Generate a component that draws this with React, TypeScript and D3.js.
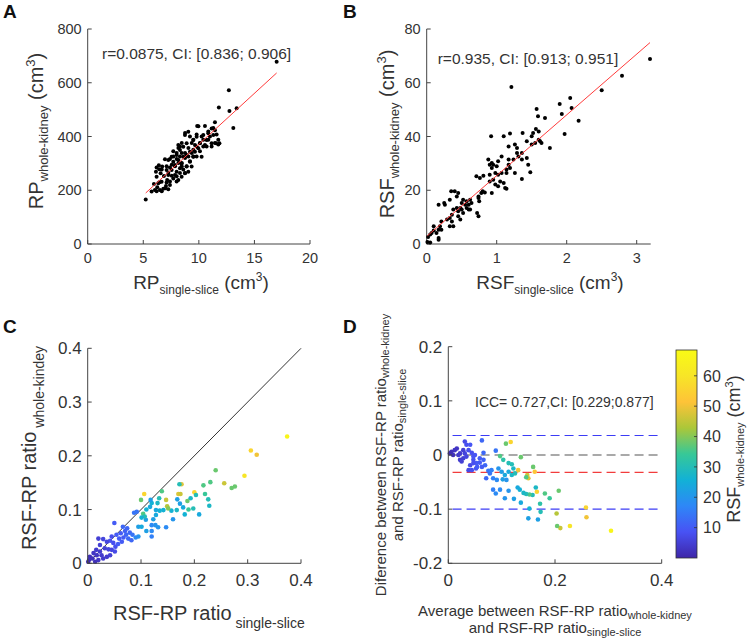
import * as d3 from "d3"

const W = 749
const H = 641
const FONT = "'Liberation Sans', Arial, Helvetica, sans-serif"
const INK = "#333"
const AXIS = "#444"

// A: RP single-slice vs RP whole-kidney (cm3)
const rpPoints: [number, number][] = [
  [5.22, 166], [5.75, 195], [6.05, 201], [6.26, 211], [6.5, 201], [5.96, 223], [6.35, 226], [6.8, 206],
  [7.04, 216], [6.65, 232], [6.2, 250], [6.14, 269], [6.44, 278], [6.2, 285], [6.56, 263], [6.86, 253],
  [7.25, 257], [7.1, 275], [7.4, 285], [6.95, 315], [7.25, 313], [7.55, 325], [7.7, 306], [8.0, 331],
  [8.15, 313], [7.85, 294], [7.55, 275], [7.85, 257], [8.15, 238], [7.7, 244], [8.0, 269], [8.3, 282],
  [8.45, 300], [8.6, 325], [8.3, 350], [8.6, 362], [8.9, 375], [8.15, 368], [8.75, 406], [9.05, 418],
  [9.5, 387], [9.65, 368], [9.2, 343], [8.9, 331], [9.5, 325], [9.2, 306], [8.9, 288], [8.75, 263],
  [8.45, 250], [9.65, 343], [9.95, 356], [10.1, 375], [9.8, 399], [9.85, 439], [10.55, 439], [10.4, 406],
  [10.7, 387], [10.85, 412], [11.15, 430], [11.45, 453], [11.3, 406], [11.15, 375], [11.55, 375], [11.85, 375],
  [10.55, 368], [10.25, 325], [9.35, 288], [9.05, 269], [7.15, 238], [7.4, 220], [7.25, 204], [6.7, 288],
  [17.0, 678], [12.7, 572], [11.8, 508], [12.75, 495], [13.4, 505], [13.1, 432],
  [6.45, 230], [6.4, 293], [6.66, 277], [6.2, 196], [6.66, 196], [6.99, 207], [7.1, 229], [7.26, 264],
  [7.56, 254], [7.4, 316], [7.7, 326], [8.0, 316], [7.7, 345], [8.16, 357], [8.46, 376], [8.76, 413],
  [9.2, 400], [9.5, 388], [9.8, 407], [9.96, 438], [10.85, 419], [11.3, 432], [10.25, 400], [10.4, 363],
  [10.7, 363], [11.15, 363], [11.45, 376], [11.75, 370], [11.45, 423], [10.1, 376], [9.8, 363], [9.5, 351],
  [9.06, 357], [8.76, 339], [8.3, 326], [8.46, 301], [8.76, 320], [9.06, 326], [9.36, 339], [9.8, 326],
  [8.9, 289], [8.6, 277], [8.3, 264], [8.0, 252], [7.86, 289], [7.56, 295], [7.1, 289], [8.16, 301],
  [8.0, 233], [7.4, 233], [8.46, 289], [8.76, 264], [8.46, 339], [8.0, 339], [8.3, 363], [9.36, 376],
  [9.5, 326], [9.2, 308], [10.1, 345], [10.4, 388], [10.85, 388], [11.0, 400], [11.75, 388], [11.6, 407],
]
const rpFit = { slope: 37.9, intercept: -7.9 }
const rpXTicks = [0, 5, 10, 15, 20]
const rpYTicks = [0, 200, 400, 600, 800]

// B: RSF single-slice vs RSF whole-kidney (cm3)
const rsfPoints: [number, number][] = [
  [3.19, 68.8], [2.79, 62.6], [2.5, 57.2], [1.21, 58.4], [1.9, 52.1], [2.05, 54.3], [2.07, 50.6], [1.93, 48.4],
  [2.17, 45.9], [1.97, 40.9], [1.57, 50.2], [1.59, 47.5], [1.69, 46.9], [1.76, 35.7], [0.92, 40.1], [1.1, 40.1],
  [1.19, 41.1], [1.37, 41.3], [1.56, 42.8], [1.52, 41.3], [1.6, 41.9], [1.62, 38.2], [1.55, 37.6], [1.5, 37.0],
  [1.17, 36.3], [1.26, 37.0], [1.29, 35.7], [1.36, 33.9], [1.43, 32.0], [1.36, 31.4], [1.31, 32.6], [1.45, 29.5],
  [1.48, 26.7], [1.36, 24.2], [1.26, 26.4], [1.19, 28.3], [1.14, 26.4], [1.17, 31.4], [1.07, 32.6], [1.02, 30.8],
  [0.95, 29.5], [0.9, 29.5], [0.93, 28.3], [0.9, 25.8], [0.98, 26.4], [0.95, 23.9], [0.98, 22.1], [1.02, 21.5],
  [1.05, 23.3], [1.1, 22.7], [1.12, 20.8], [1.07, 26.4], [1.14, 20.6], [0.93, 19.0], [0.83, 19.2], [0.78, 19.0],
  [0.71, 25.2], [0.76, 24.6], [0.81, 25.4], [0.74, 17.1], [0.75, 15.9], [0.72, 11.5], [0.74, 10.3], [0.62, 16.5],
  [0.6, 14.6], [0.57, 13.4], [0.52, 16.5], [0.5, 15.3], [0.48, 13.4], [0.52, 11.5], [0.45, 19.0], [0.4, 19.6],
  [0.43, 17.7], [0.35, 19.6], [0.33, 16.5], [0.26, 14.6], [0.25, 15.3], [0.17, 14.6], [0.43, 13.4], [0.38, 12.8],
  [0.36, 10.9], [0.33, 9.7], [0.36, 8.4], [0.38, 6.6], [0.33, 6.6], [0.29, 9.1], [0.21, 8.4], [0.19, 6.6],
  [0.17, 5.3], [0.21, 5.3], [0.14, 4.1], [0.1, 6.6], [0.07, 4.1], [0.05, 3.5], [0.02, 2.6], [0.01, 0.7],
  [0.05, 0.6], [0.17, 2.2], [0.17, 1.6], [0.1, 5.0], [0.45, 10.3], [0.48, 9.1], [0.45, 12.2], [0.5, 12.8],
  [0.55, 14.6], [0.6, 12.8], [0.62, 12.8], [0.64, 15.3], [0.57, 15.9], [0.74, 17.7], [0.8, 19.6], [1.5, 40.1],
  [1.6, 38.8], [1.43, 38.2], [1.64, 37.6], [1.29, 33.9], [1.24, 31.4], [1.17, 29.5], [1.14, 27.7], [1.0, 28.9],
  [1.02, 25.8], [0.9, 23.3], [0.88, 31.4], [0.93, 30.1],
]
const rsfFit = { slope: 22.6, intercept: 2.85 }
const rsfXTicks = [0, 1, 2, 3]
const rsfYTicks = [0, 20, 40, 60, 80]

// C: ratio single-slice, ratio whole-kidney, RSF whole-kidney (colour)
const ratioPoints: [number, number, number][] = [
  [0.374, 0.236, 66], [0.306, 0.21, 56], [0.317, 0.202, 50], [0.294, 0.163, 60], [0.256, 0.149, 46],
  [0.24, 0.173, 38], [0.27, 0.14, 38], [0.276, 0.143, 38], [0.23, 0.151, 36], [0.217, 0.145, 36],
  [0.22, 0.129, 34], [0.226, 0.119, 30], [0.228, 0.107, 28], [0.209, 0.091, 24], [0.2, 0.132, 56],
  [0.203, 0.127, 30], [0.193, 0.121, 28], [0.198, 0.102, 30], [0.187, 0.116, 38], [0.189, 0.1, 34],
  [0.176, 0.147, 48], [0.172, 0.147, 30], [0.17, 0.129, 48], [0.174, 0.129, 46], [0.168, 0.119, 22],
  [0.173, 0.111, 22], [0.179, 0.104, 24], [0.182, 0.091, 26], [0.167, 0.099, 28], [0.157, 0.098, 26],
  [0.16, 0.082, 20], [0.149, 0.106, 44], [0.147, 0.118, 46], [0.151, 0.102, 40], [0.139, 0.134, 36],
  [0.134, 0.121, 30], [0.131, 0.112, 28], [0.135, 0.098, 26], [0.142, 0.099, 26], [0.128, 0.09, 24],
  [0.123, 0.082, 22], [0.127, 0.071, 20], [0.132, 0.067, 20], [0.147, 0.067, 18], [0.12, 0.071, 18],
  [0.117, 0.105, 24], [0.12, 0.112, 26], [0.118, 0.118, 22], [0.128, 0.099, 24], [0.11, 0.1, 26],
  [0.109, 0.081, 22], [0.106, 0.129, 56], [0.1, 0.118, 38], [0.104, 0.092, 36], [0.107, 0.087, 30],
  [0.101, 0.085, 26], [0.095, 0.068, 22], [0.101, 0.068, 24], [0.11, 0.06, 22], [0.12, 0.06, 18],
  [0.12, 0.05, 16], [0.095, 0.05, 20], [0.09, 0.048, 18], [0.087, 0.094, 14], [0.092, 0.096, 14],
  [0.074, 0.065, 12], [0.066, 0.068, 12], [0.05, 0.075, 10], [0.072, 0.053, 12], [0.067, 0.048, 10],
  [0.059, 0.046, 10], [0.054, 0.053, 10], [0.045, 0.05, 8], [0.042, 0.042, 8], [0.048, 0.038, 8],
  [0.052, 0.031, 8], [0.057, 0.036, 10], [0.064, 0.04, 10], [0.036, 0.04, 6], [0.029, 0.045, 6],
  [0.02, 0.046, 5], [0.023, 0.034, 5], [0.032, 0.028, 5], [0.039, 0.026, 6], [0.023, 0.022, 4],
  [0.016, 0.025, 4], [0.011, 0.019, 3], [0.004, 0.012, 2], [0.003, 0.007, 2], [0.009, 0.009, 2],
  [0.017, 0.015, 3], [0.001, 0.003, 1], [0.014, 0.003, 2], [0.02, 0.006, 3], [0.029, 0.009, 4],
  [0.036, 0.012, 4], [0.026, 0.015, 4], [0.042, 0.015, 5], [0.045, 0.025, 6], [0.051, 0.022, 7],
  [0.079, 0.057, 12], [0.076, 0.046, 12], [0.084, 0.053, 14], [0.082, 0.043, 12], [0.062, 0.056, 10],
  [0.07, 0.06, 11],
]
const ratioTicks = [0, 0.1, 0.2, 0.3, 0.4]

// D: Bland-Altman, average, difference, RSF whole-kidney (colour)
const baPoints: [number, number, number][] = [
  [0.305, -0.14, 66], [0.258, -0.097, 56], [0.259, -0.115, 50], [0.228, -0.131, 60], [0.21, -0.135, 46],
  [0.204, -0.131, 38], [0.203, -0.108, 44], [0.207, -0.066, 38], [0.19, -0.08, 34], [0.181, -0.071, 36],
  [0.172, -0.09, 32], [0.173, -0.105, 30], [0.168, -0.119, 22], [0.15, -0.117, 22], [0.152, -0.099, 26],
  [0.166, -0.068, 56], [0.164, -0.06, 28], [0.158, -0.074, 30], [0.152, -0.073, 36], [0.146, -0.072, 30],
  [0.141, -0.07, 28], [0.134, -0.064, 26], [0.13, -0.06, 24], [0.136, -0.088, 24], [0.123, -0.081, 22],
  [0.106, -0.08, 20], [0.113, -0.066, 20], [0.097, -0.064, 18], [0.089, -0.071, 18], [0.084, -0.064, 16],
  [0.148, -0.037, 46], [0.15, -0.043, 48], [0.146, -0.041, 36], [0.131, -0.028, 50], [0.162, -0.031, 52],
  [0.159, -0.022, 38], [0.136, -0.004, 38], [0.117, 0.024, 56], [0.108, 0.021, 38], [0.097, -0.002, 36],
  [0.103, -0.009, 32], [0.113, -0.015, 30], [0.119, -0.017, 30], [0.122, -0.025, 28], [0.125, -0.034, 30],
  [0.119, -0.037, 28], [0.113, -0.031, 24], [0.106, -0.037, 24], [0.1, -0.031, 22], [0.094, -0.025, 20],
  [0.102, -0.045, 22], [0.109, -0.046, 20], [0.091, -0.046, 18], [0.084, -0.043, 16], [0.078, -0.034, 14],
  [0.075, -0.029, 14], [0.081, -0.028, 16], [0.089, 0.008, 14], [0.071, -0.043, 12], [0.069, -0.019, 12],
  [0.063, -0.022, 10], [0.063, 0.027, 12], [0.066, 0.004, 12], [0.059, -0.014, 10], [0.053, -0.015, 10],
  [0.047, -0.009, 8], [0.05, 0, 9], [0.044, 0.004, 8], [0.038, 0.009, 8], [0.031, 0.025, 7],
  [0.034, 0.019, 8], [0.041, 0.019, 9], [0.047, -0.003, 9], [0.041, -0.019, 7], [0.038, -0.028, 7],
  [0.044, -0.028, 8], [0.052, -0.025, 9], [0.054, -0.022, 10], [0.028, -0.006, 5], [0.022, -0.009, 4],
  [0.019, 0, 4], [0.012, 0.009, 3], [0.006, 0.006, 2], [0.003, 0.003, 1], [0.009, 0, 2],
  [0.016, 0.012, 3], [0.022, 0.003, 4], [0.025, -0.012, 5], [0.031, 0.003, 6], [0.034, -0.003, 6],
  [0.028, 0.009, 5], [0.047, -0.015, 8], [0.059, -0.006, 10], [0.066, -0.009, 11],
]
const baLines = { upper: 0.036, mean: -0.032, lower: -0.1 }
const baXTicks = [0, 0.2, 0.4]
const baYTicks = [-0.2, -0.1, 0, 0.1, 0.2]

const cbTicks = [10, 20, 30, 40, 50, 60]
const cbDomain: [number, number] = [0, 68.5]
const parula = ["#3e26a8", "#4852f4", "#2e87f7", "#12b1d6", "#37c897", "#abc739", "#fec338", "#f7e527", "#f9fb15"]

const colorScale = d3
  .scaleLinear<string>()
  .domain(parula.map((_, i) => cbDomain[0] + ((cbDomain[1] - cbDomain[0]) * i) / (parula.length - 1)))
  .range(parula)
  .interpolate(d3.interpolateRgb)
  .clamp(true)

type Part = { t: string; size: number; shift?: number }

function RichText({ parts, x, y, anchor = "start", rotate = false }: { parts: Part[]; x: number; y: number; anchor?: string; rotate?: boolean }) {
  let prev = 0
  return (
    <text x={x} y={y} textAnchor={anchor} fontFamily={FONT} fill={INK} transform={rotate ? `rotate(-90 ${x} ${y})` : undefined}>
      {parts.map((p, i) => {
        const s = p.shift ?? 0
        const dy = s - prev
        prev = s
        return (
          <tspan key={i} fontSize={p.size} dy={dy}>
            {p.t}
          </tspan>
        )
      })}
    </text>
  )
}

const fmt = (d: number) => (d === 0 ? "0" : String(d))

function Axes({ x, y, xTicks, yTicks, fontSize, xGap }: {
  x: d3.ScaleLinear<number, number>
  y: d3.ScaleLinear<number, number>
  xTicks: number[]
  yTicks: number[]
  fontSize: number
  xGap: number
}) {
  const [x0, x1] = x.range()
  const [yb, yt] = y.range()
  const tick = 4
  return (
    <g fontFamily={FONT} fontSize={fontSize} fill={INK}>
      <line x1={x0} x2={x1} y1={yb} y2={yb} stroke={AXIS} strokeWidth={1} />
      <line x1={x0} x2={x0} y1={yb} y2={yt} stroke={AXIS} strokeWidth={1} />
      {xTicks.map((t) => (
        <g key={"x" + t}>
          <line x1={x(t)} x2={x(t)} y1={yb} y2={yb - tick} stroke={AXIS} />
          <text x={x(t)} y={yb + xGap} textAnchor="middle">{fmt(t)}</text>
        </g>
      ))}
      {yTicks.map((t) => (
        <g key={"y" + t}>
          <line x1={x0} x2={x0 + tick} y1={y(t)} y2={y(t)} stroke={AXIS} />
          <text x={x0 - 6} y={y(t)} dy="0.36em" textAnchor="end">{fmt(t)}</text>
        </g>
      ))}
    </g>
  )
}

function PanelLetter({ x, y, t }: { x: number; y: number; t: string }) {
  return (
    <text x={x} y={y} fontFamily={FONT} fontWeight="bold" fontSize={19} fill="#111">{t}</text>
  )
}

export default function App() {
  // panel A
  const ax = d3.scaleLinear().domain([0, 20]).range([87.7, 310])
  const ay = d3.scaleLinear().domain([0, 800]).range([244, 29])
  const aExt = d3.extent(rpPoints, (d) => d[0]) as [number, number]
  // panel B
  const bx = d3.scaleLinear().domain([0, 3.2]).range([426.7, 650.7])
  const by = d3.scaleLinear().domain([0, 80]).range([244, 29])
  const bExt = d3.extent(rsfPoints, (d) => d[0]) as [number, number]
  // panel C
  const cx = d3.scaleLinear().domain([0, 0.4]).range([87.7, 301])
  const cy = d3.scaleLinear().domain([0, 0.4]).range([563.3, 348.3])
  // panel D
  const dx = d3.scaleLinear().domain([0, 0.4]).range([448.3, 661.7])
  const dy = d3.scaleLinear().domain([-0.2, 0.2]).range([563.3, 346.7])
  // colorbar
  const cbY = d3.scaleLinear().domain(cbDomain).range([558, 350])
  const cbX0 = 676
  const cbW = 21

  return (
    <div style={{ position: "absolute", left: 0, top: 0 }}>
      <svg width={W} height={H} style={{ display: "block", background: "#fff" }}>
        <defs>
          <linearGradient id="parula" x1="0" y1="1" x2="0" y2="0">
            {parula.map((c, i) => (
              <stop key={i} offset={i / (parula.length - 1)} stopColor={c} />
            ))}
          </linearGradient>
        </defs>

        {/* A */}
        <PanelLetter x={3} y={18} t="A" />
        <Axes x={ax} y={ay} xTicks={rpXTicks} yTicks={rpYTicks} fontSize={14.5} xGap={19} />
        {rpPoints.map((d, i) => (
          <circle key={i} cx={ax(d[0])} cy={ay(d[1])} r={2} fill="#000" />
        ))}
        <path
          d={d3.line<number>().x((v) => ax(v)).y((v) => ay(rpFit.intercept + rpFit.slope * v))(aExt) ?? ""}
          stroke="#ff3b3b" strokeWidth={1} fill="none"
        />
        <text x={102} y={59} fontFamily={FONT} fontSize={15.5} fill={INK}>r=0.0875, CI: [0.836; 0.906]</text>
        <RichText x={201} y={289} anchor="middle" parts={[
          { t: "RP", size: 19 }, { t: "single-slice", size: 12, shift: 5 }, { t: " (cm", size: 19 }, { t: "3", size: 12, shift: -8 }, { t: ")", size: 19 },
        ]} />
        <RichText x={43} y={131} anchor="middle" rotate parts={[
          { t: "RP", size: 20 }, { t: "whole-kidney", size: 13, shift: 5 }, { t: " (cm", size: 20 }, { t: "3", size: 13, shift: -8 }, { t: ")", size: 20 },
        ]} />

        {/* B */}
        <PanelLetter x={343} y={18} t="B" />
        <Axes x={bx} y={by} xTicks={rsfXTicks} yTicks={rsfYTicks} fontSize={14.5} xGap={19} />
        {rsfPoints.map((d, i) => (
          <circle key={i} cx={bx(d[0])} cy={by(d[1])} r={2} fill="#000" />
        ))}
        <path
          d={d3.line<number>().x((v) => bx(v)).y((v) => by(rsfFit.intercept + rsfFit.slope * v))(bExt) ?? ""}
          stroke="#ff3b3b" strokeWidth={1} fill="none"
        />
        <text x={437.7} y={63.5} fontFamily={FONT} fontSize={15.5} fill={INK}>r=0.935, CI: [0.913; 0.951]</text>
        <RichText x={550} y={289} anchor="middle" parts={[
          { t: "RSF", size: 19 }, { t: "single-slice", size: 12, shift: 5 }, { t: " (cm", size: 19 }, { t: "3", size: 12, shift: -8 }, { t: ")", size: 19 },
        ]} />
        <RichText x={394} y={134} anchor="middle" rotate parts={[
          { t: "RSF", size: 20 }, { t: "whole-kidney", size: 13, shift: 5 }, { t: " (cm", size: 20 }, { t: "3", size: 13, shift: -8 }, { t: ")", size: 20 },
        ]} />

        {/* C */}
        <PanelLetter x={3} y={333} t="C" />
        <line x1={cx(0)} y1={cy(0)} x2={cx(0.4)} y2={cy(0.4)} stroke="#333" strokeWidth={1} />
        {ratioPoints.map((d, i) => (
          <circle key={i} cx={cx(d[0])} cy={cy(d[1])} r={2.3} fill={colorScale(d[2])} />
        ))}
        <Axes x={cx} y={cy} xTicks={ratioTicks} yTicks={ratioTicks} fontSize={17} xGap={23} />
        <RichText x={113} y={620} parts={[
          { t: "RSF-RP ratio", size: 20 }, { t: " single-slice", size: 14, shift: 8 },
        ]} />
        <RichText x={36} y={448} anchor="middle" rotate parts={[
          { t: "RSF-RP ratio", size: 20 }, { t: " whole-kindey", size: 14, shift: 8 },
        ]} />

        {/* D */}
        <PanelLetter x={343} y={333} t="D" />
        {[
          { v: baLines.upper, c: "#3c3cf5" },
          { v: 0, c: "#555" },
          { v: baLines.mean, c: "#f23c3c" },
          { v: baLines.lower, c: "#3c3cf5" },
        ].map((l, i) => (
          <line key={i} x1={dx(0.008)} x2={dx(0.4)} y1={dy(l.v)} y2={dy(l.v)} stroke={l.c} strokeWidth={1.1} strokeDasharray="9 5" />
        ))}
        {baPoints.map((d, i) => (
          <circle key={i} cx={dx(d[0])} cy={dy(d[1])} r={2.3} fill={colorScale(d[2])} />
        ))}
        <Axes x={dx} y={dy} xTicks={baXTicks} yTicks={baYTicks} fontSize={17} xGap={23} />
        <text x={475} y={406.5} fontFamily={FONT} fontSize={14} fill={INK}>ICC= 0.727,CI: [0.229;0.877]</text>
        <RichText x={555} y={616} anchor="middle" parts={[
          { t: "Average between RSF-RP ratio", size: 15 }, { t: "whole-kidney", size: 11, shift: 3 },
        ]} />
        <RichText x={555} y={633} anchor="middle" parts={[
          { t: "and RSF-RP ratio", size: 15 }, { t: "single-slice", size: 11, shift: 3 },
        ]} />
        <RichText x={386} y={455} anchor="middle" rotate parts={[
          { t: "Diference between RSF-RP ratio", size: 15 }, { t: "whole-kidney", size: 11, shift: 3 },
        ]} />
        <RichText x={403} y={455} anchor="middle" rotate parts={[
          { t: "and RSF-RP ratio", size: 15 }, { t: "single-slice", size: 11, shift: 3 },
        ]} />

        {/* colorbar */}
        <rect x={cbX0} y={cbY(cbDomain[1])} width={cbW} height={cbY(cbDomain[0]) - cbY(cbDomain[1])} fill="url(#parula)" stroke="#333" strokeWidth={0.8} />
        {cbTicks.map((t) => (
          <g key={t}>
            <line x1={cbX0 + cbW} x2={cbX0 + cbW - 3} y1={cbY(t)} y2={cbY(t)} stroke="#333" strokeWidth={0.8} />
            <text x={cbX0 + cbW + 6} y={cbY(t)} dy="0.36em" fontFamily={FONT} fontSize={16} fill={INK}>{t}</text>
          </g>
        ))}
        <RichText x={740} y={449} anchor="middle" rotate parts={[
          { t: "RSF", size: 18 }, { t: "whole-kidney", size: 11, shift: 4 }, { t: " (cm", size: 18 }, { t: "3", size: 11, shift: -7 }, { t: ")", size: 18 },
        ]} />
      </svg>
    </div>
  )
}
